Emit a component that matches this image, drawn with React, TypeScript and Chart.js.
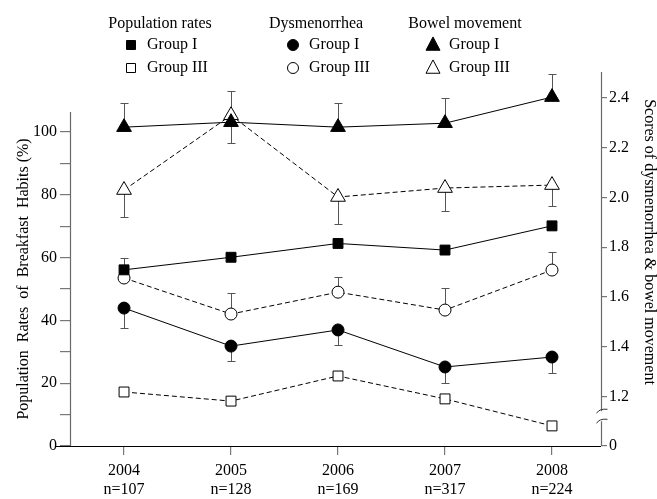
import React, { useEffect, useRef } from 'react';
import { Chart, registerables } from 'chart.js';

Chart.register(...registerables);

// ---- data ----
const years = [2004, 2005, 2006, 2007, 2008];
const sampleSizes = ['n=107', 'n=128', 'n=169', 'n=317', 'n=224'];

// Population rates (%), left axis
const popGroupI = [56.1, 60.1, 64.5, 62.4, 70.1];
const popGroupIII = [17.2, 14.3, 22.3, 15.0, 6.4];

// Dysmenorrhea scores, right axis (value and error-bar end)
const dysGroupI = [1.555, 1.402, 1.467, 1.318, 1.358];
const dysGroupIErr = [1.475, 1.342, 1.406, 1.253, 1.294];
const dysGroupIII = [1.676, 1.531, 1.619, 1.547, 1.708];
const dysGroupIIIErr = [1.756, 1.615, 1.68, 1.636, 1.78];

// Bowel movement scores, right axis (value and error-bar end)
const bowGroupI = [2.283, 2.303, 2.283, 2.299, 2.404];
const bowGroupIErr = [2.38, 2.219, 2.38, 2.4, 2.496];
const bowGroupIII = [2.03, 2.331, 2.002, 2.038, 2.05];
const bowGroupIIIErr = [1.921, 2.428, 1.893, 1.945, 1.965];

// axes
const leftTicks = [0, 10, 20, 30, 40, 50, 60, 70, 80, 90, 100];
const leftMax = 119.1;
const leftAxisTop = 106.4;
const rightTicks = [1.2, 1.4, 1.6, 1.8, 2.0, 2.2, 2.4];
const rightMin = 1.0;
const rightMax = 2.505;
const rightZeroLabel = '0';

const leftTitle = 'Population  Rates  of  Breakfast  Habits (%)';
const rightTitle = 'Scores of dysmenorrhea & bowel movement';
const legendHeaders = ['Population rates', 'Dysmenorrhea', 'Bowel movement'];
const legendLabels = ['Group I', 'Group III'];

const FONT = '"Liberation Serif", "Times New Roman", serif';

function pts(vals: number[]) {
  return years.map((yr, i) => ({ x: yr, y: vals[i] }));
}

function drawMarker(ctx: CanvasRenderingContext2D, shape: string, filled: boolean, x: number, y: number, s: number) {
  ctx.save();
  ctx.beginPath();
  if (shape === 'rect') {
    ctx.rect(x - s, y - s, 2 * s, 2 * s);
  } else if (shape === 'circle') {
    ctx.arc(x, y, s, 0, Math.PI * 2);
  } else {
    ctx.moveTo(x, y - s * 1.15);
    ctx.lineTo(x + s, y + s * 0.75);
    ctx.lineTo(x - s, y + s * 0.75);
    ctx.closePath();
  }
  ctx.fillStyle = filled ? '#000' : '#fff';
  ctx.fill();
  ctx.strokeStyle = '#000';
  ctx.lineWidth = 1;
  ctx.stroke();
  ctx.restore();
}

const overlay = {
  id: 'overlay',
  beforeDatasetsDraw(chart: any) {
    const ctx = chart.ctx;
    const xs = chart.scales.x;
    const yR = chart.scales.yR;
    ctx.save();
    ctx.strokeStyle = '#555';
    ctx.lineWidth = 1;
    const bars: [number[], number[]][] = [
      [dysGroupI, dysGroupIErr],
      [dysGroupIII, dysGroupIIIErr],
      [bowGroupI, bowGroupIErr],
      [bowGroupIII, bowGroupIIIErr],
    ];
    bars.forEach(([v, e]) => {
      years.forEach((yr, i) => {
        const px = Math.round(xs.getPixelForValue(yr)) + 0.5;
        const p0 = yR.getPixelForValue(v[i]);
        const p1 = Math.round(yR.getPixelForValue(e[i])) + 0.5;
        ctx.beginPath();
        ctx.moveTo(px, p0);
        ctx.lineTo(px, p1);
        ctx.moveTo(px - 4, p1);
        ctx.lineTo(px + 4, p1);
        ctx.stroke();
      });
    });
    ctx.restore();
  },
  afterDraw(chart: any) {
    const ctx = chart.ctx;
    const ca = chart.chartArea;
    const yL = chart.scales.yL;
    const yR = chart.scales.yR;
    ctx.save();
    // x axis line
    ctx.strokeStyle = '#000';
    ctx.lineWidth = 1.2;
    ctx.beginPath();
    ctx.moveTo(ca.left - 15, ca.bottom + 0.5);
    ctx.lineTo(ca.right, ca.bottom + 0.5);
    ctx.stroke();
    // left axis line
    ctx.strokeStyle = '#6a6a6a';
    ctx.lineWidth = 1.2;
    const lx = Math.round(ca.left) + 0.5;
    ctx.beginPath();
    ctx.moveTo(lx, yL.getPixelForValue(leftAxisTop));
    ctx.lineTo(lx, ca.bottom);
    ctx.stroke();
    // right axis with break
    const rx = Math.round(ca.right) + 0.5;
    const bTop = yR.getPixelForValue(rightTicks[0]) + 15;
    const bBot = bTop + 10;
    ctx.beginPath();
    ctx.moveTo(rx, ca.top);
    ctx.lineTo(rx, bTop);
    ctx.moveTo(rx, bBot);
    ctx.lineTo(rx, ca.bottom);
    ctx.stroke();
    ctx.strokeStyle = '#333';
    ctx.lineWidth = 1;
    [bTop, bBot].forEach((by) => {
      ctx.beginPath();
      ctx.moveTo(rx - 5, by + 2);
      ctx.quadraticCurveTo(rx - 2, by - 3, rx + 6, by - 2);
      ctx.stroke();
    });

    // titles
    ctx.fillStyle = '#000';
    ctx.font = `16px ${FONT}`;
    ctx.textAlign = 'center';
    ctx.textBaseline = 'middle';
    ctx.save();
    ctx.translate(24, (yL.getPixelForValue(leftAxisTop) + ca.bottom) / 2);
    ctx.rotate(-Math.PI / 2);
    ctx.fillText(leftTitle, 0, 0);
    ctx.restore();
    ctx.save();
    ctx.translate(649, 242);
    ctx.rotate(Math.PI / 2);
    ctx.fillText(rightTitle, 0, 0);
    ctx.restore();

    // legend
    const headerX = [160, 316, 465];
    const markX = [131, 293, 433];
    const shapes = ['rect', 'circle', 'triangle'];
    const sizes = [4.5, 5.5, 7];
    const rowsY = [45, 68];
    ctx.textAlign = 'center';
    legendHeaders.forEach((h, i) => ctx.fillText(h, headerX[i], 24));
    ctx.textAlign = 'left';
    shapes.forEach((sh, i) => {
      rowsY.forEach((ry, r) => {
        drawMarker(ctx, sh, r === 0, markX[i], ry, sizes[i]);
        ctx.fillStyle = '#000';
        ctx.fillText(legendLabels[r], markX[i] + 16, ry);
      });
    });
    ctx.restore();
  },
};

export default function App() {
  const ref = useRef<HTMLCanvasElement>(null);
  useEffect(() => {
    if (!ref.current) return;
    const solid = { borderColor: '#000', borderWidth: 1, pointBorderColor: '#000', pointBorderWidth: 1 };
    const dashed = { ...solid, borderDash: [5, 3] };
    const chart = new Chart(ref.current, {
      type: 'line',
      data: {
        datasets: [
          { ...solid, label: 'Population rates Group I', data: pts(popGroupI), yAxisID: 'yL', pointStyle: 'rect', pointRadius: 7, pointBackgroundColor: '#000' },
          { ...dashed, label: 'Population rates Group III', data: pts(popGroupIII), yAxisID: 'yL', pointStyle: 'rect', pointRadius: 7, pointBackgroundColor: '#fff' },
          { ...solid, label: 'Dysmenorrhea Group I', data: pts(dysGroupI), yAxisID: 'yR', pointStyle: 'circle', pointRadius: 6, pointBackgroundColor: '#000' },
          { ...dashed, label: 'Dysmenorrhea Group III', data: pts(dysGroupIII), yAxisID: 'yR', pointStyle: 'circle', pointRadius: 6, pointBackgroundColor: '#fff' },
          { ...solid, label: 'Bowel movement Group I', data: pts(bowGroupI), yAxisID: 'yR', pointStyle: 'triangle', pointRadius: 8.5, pointBackgroundColor: '#000' },
          { ...dashed, label: 'Bowel movement Group III', data: pts(bowGroupIII), yAxisID: 'yR', pointStyle: 'triangle', pointRadius: 8.5, pointBackgroundColor: '#fff' },
        ],
      },
      options: {
        responsive: false,
        animation: false,
        layout: { padding: { top: 72, left: 0, right: 0, bottom: 0 } },
        plugins: { legend: { display: false }, tooltip: { enabled: false } },
        elements: { line: { tension: 0 } },
        scales: {
          x: {
            type: 'linear',
            position: 'bottom',
            min: 2003.495,
            max: 2008.458,
            afterBuildTicks: (s: any) => { s.ticks = years.map((v) => ({ value: v })); },
            afterFit: (s: any) => { s.height = 53; },
            ticks: {
              autoSkip: false,
              maxRotation: 0,
              padding: 6,
              color: '#000',
              font: { family: FONT, size: 16, lineHeight: 1.2 },
              callback: (v: any) => {
                const i = years.indexOf(Number(v));
                return i >= 0 ? [String(years[i]), sampleSizes[i]] : '';
              },
            },
            grid: { display: true, drawOnChartArea: false, drawTicks: true, tickLength: 9, color: '#777', lineWidth: 1.2 },
            border: { display: false },
          },
          yL: {
            type: 'linear',
            position: 'left',
            min: 0,
            max: leftMax,
            afterBuildTicks: (s: any) => { s.ticks = leftTicks.map((v) => ({ value: v })); },
            afterFit: (s: any) => { s.width = 70; },
            ticks: {
              autoSkip: false,
              padding: 3,
              color: '#000',
              font: { family: FONT, size: 16 },
              callback: (v: any) => (Number(v) % 20 === 0 ? String(v) : ''),
            },
            grid: { display: true, drawOnChartArea: false, drawTicks: true, tickLength: 10, color: '#777', lineWidth: 1.2 },
            border: { display: false },
          },
          yR: {
            type: 'linear',
            position: 'right',
            min: rightMin,
            max: rightMax,
            afterBuildTicks: (s: any) => { s.ticks = [rightMin, ...rightTicks].map((v) => ({ value: v })); },
            afterFit: (s: any) => { s.width = 56; },
            ticks: {
              autoSkip: false,
              padding: 2,
              color: '#000',
              font: { family: FONT, size: 16 },
              callback: (v: any) => (Number(v) === rightMin ? rightZeroLabel : Number(v).toFixed(1)),
            },
            grid: { display: true, drawOnChartArea: false, drawTicks: true, tickLength: 6, color: '#777', lineWidth: 1.2 },
            border: { display: false },
          },
        },
      },
      plugins: [overlay],
    } as any);
    return () => chart.destroy();
  }, []);
  return (
    <div style={{ position: 'fixed', left: 0, top: 0, width: 657, height: 499, background: '#fff' }}>
      <canvas ref={ref} width={657} height={499} style={{ display: 'block' }} />
    </div>
  );
}
